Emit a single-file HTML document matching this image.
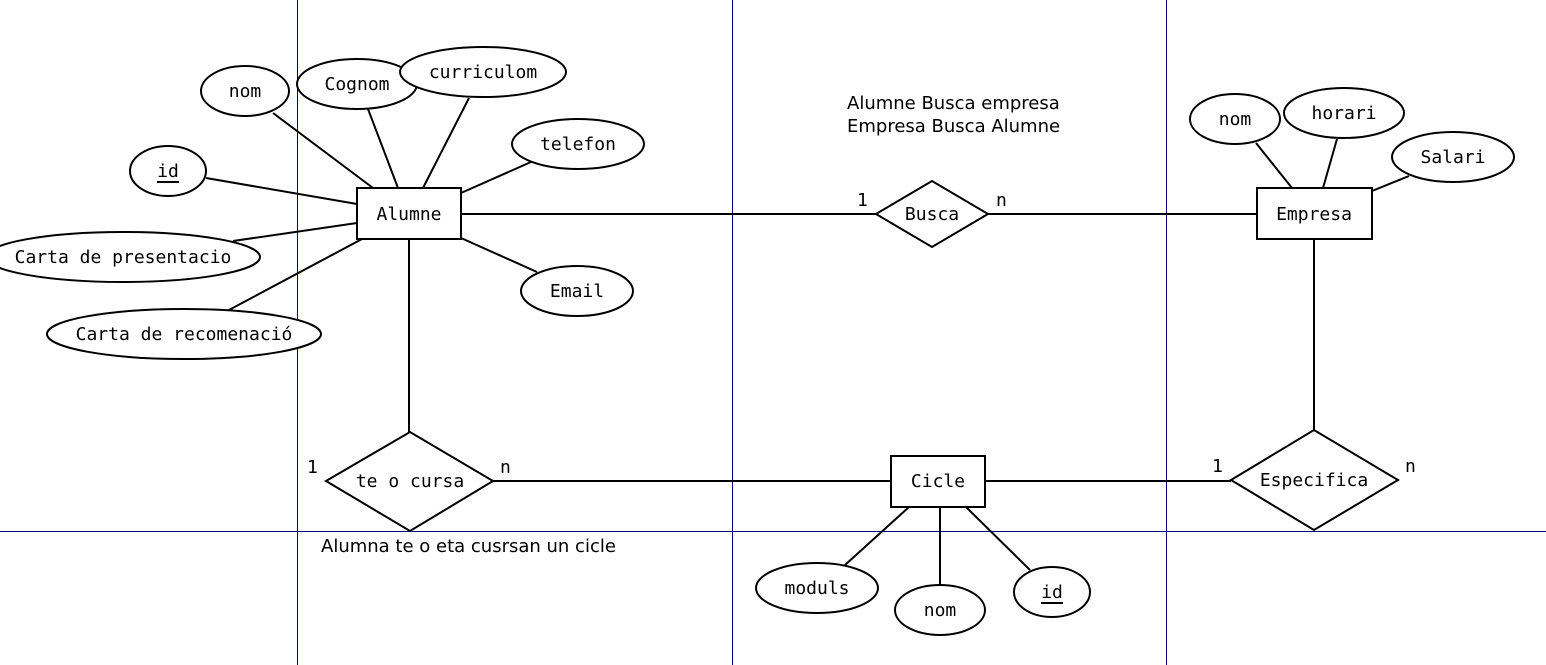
<!DOCTYPE html>
<html><head><meta charset="utf-8"><style>
html,body{margin:0;padding:0;background:#fff;}
svg{display:block}
.m{font-family:"DejaVu Sans Mono","Liberation Mono",monospace;font-size:18px;fill:#000}
.s{font-family:"DejaVu Sans","Liberation Sans",sans-serif;font-size:18px;fill:#000}
</style></head><body>
<svg width="1546" height="665" viewBox="0 0 1546 665" xmlns="http://www.w3.org/2000/svg">
<g stroke="#000080" stroke-width="1">
<line x1="297.5" y1="0" x2="297.5" y2="665"/>
<line x1="732.5" y1="0" x2="732.5" y2="665"/>
<line x1="1166.5" y1="0" x2="1166.5" y2="665"/>
<line x1="0" y1="531.5" x2="1546" y2="531.5"/>
</g>
<g stroke="#000" stroke-width="2" fill="none">
<line x1="273" y1="113" x2="373" y2="188"/>
<line x1="368" y1="109" x2="398" y2="188"/>
<line x1="469" y1="98" x2="423" y2="188"/>
<line x1="531" y1="162" x2="461" y2="193"/>
<line x1="206" y1="178" x2="357" y2="204"/>
<line x1="233" y1="241" x2="357" y2="223"/>
<line x1="229" y1="310" x2="362" y2="239"/>
<line x1="537" y1="272" x2="461" y2="238"/>
<line x1="461" y1="214" x2="876" y2="214"/>
<line x1="988" y1="214" x2="1257" y2="214"/>
<line x1="409" y1="239" x2="409" y2="432"/>
<line x1="493" y1="481" x2="891" y2="481"/>
<line x1="985" y1="481" x2="1231" y2="481"/>
<line x1="1314" y1="239" x2="1314" y2="430"/>
<line x1="1256" y1="143" x2="1292" y2="188"/>
<line x1="1337" y1="139" x2="1323" y2="188"/>
<line x1="1409" y1="176" x2="1372" y2="191"/>
<line x1="845" y1="565" x2="909" y2="507"/>
<line x1="940" y1="585" x2="940" y2="507"/>
<line x1="1030" y1="570" x2="966" y2="507"/>
</g>
<g stroke="#000" stroke-width="2" fill="#fff">
<rect x="357" y="188" width="104" height="51"/>
<rect x="1257" y="188" width="115" height="51"/>
<rect x="891" y="456" width="94" height="51"/>
<polygon points="876,214 932,181 988,214 932,247"/>
<polygon points="326,481 410,432 493,481 410,531"/>
<polygon points="1231,480 1314,430 1398,480 1314,530"/>
<ellipse cx="245" cy="91" rx="44" ry="25"/>
<ellipse cx="357" cy="84" rx="60" ry="25"/>
<ellipse cx="483" cy="72" rx="83" ry="25"/>
<ellipse cx="578" cy="144" rx="66" ry="25"/>
<ellipse cx="168" cy="171" rx="38" ry="25"/>
<ellipse cx="123" cy="257" rx="137" ry="25"/>
<ellipse cx="184" cy="334" rx="137" ry="25"/>
<ellipse cx="577" cy="291" rx="56" ry="25"/>
<ellipse cx="1235" cy="119" rx="45" ry="25"/>
<ellipse cx="1344" cy="113" rx="60" ry="25"/>
<ellipse cx="1453" cy="157" rx="61" ry="25"/>
<ellipse cx="817" cy="588" rx="61" ry="25"/>
<ellipse cx="940" cy="610" rx="45" ry="25"/>
<ellipse cx="1052" cy="592" rx="38" ry="25"/>
</g>
<g class="m" text-anchor="middle">
<text x="409" y="220">Alumne</text>
<text x="1314" y="220">Empresa</text>
<text x="938" y="487">Cicle</text>
<text x="932" y="220">Busca</text>
<text x="410" y="487">te o cursa</text>
<text x="1314" y="486">Especifica</text>
<text x="245" y="97">nom</text>
<text x="357" y="90">Cognom</text>
<text x="483" y="78">curriculom</text>
<text x="578" y="150">telefon</text>
<text x="168" y="177">id</text>
<text x="123" y="263">Carta de presentacio</text>
<text x="184" y="340">Carta de recomenació</text>
<text x="577" y="297">Email</text>
<text x="1235" y="125">nom</text>
<text x="1344" y="119">horari</text>
<text x="1453" y="163">Salari</text>
<text x="817" y="594">moduls</text>
<text x="940" y="616">nom</text>
<text x="1052" y="598">id</text>
</g>
<g stroke="#000" stroke-width="2">
<line x1="157" y1="182" x2="179" y2="182"/>
<line x1="1041" y1="603" x2="1063" y2="603"/>
</g>
<g class="m">
<text x="857" y="206">1</text>
<text x="996" y="206">n</text>
<text x="307" y="473">1</text>
<text x="500" y="473">n</text>
<text x="1212" y="472">1</text>
<text x="1405" y="472">n</text>
</g>
<g class="s">
<text x="847" y="109">Alumne Busca empresa</text>
<text x="847" y="132">Empresa Busca Alumne</text>
<text x="321" y="552">Alumna te o eta cusrsan un cicle</text>
</g>
</svg>
</body></html>
